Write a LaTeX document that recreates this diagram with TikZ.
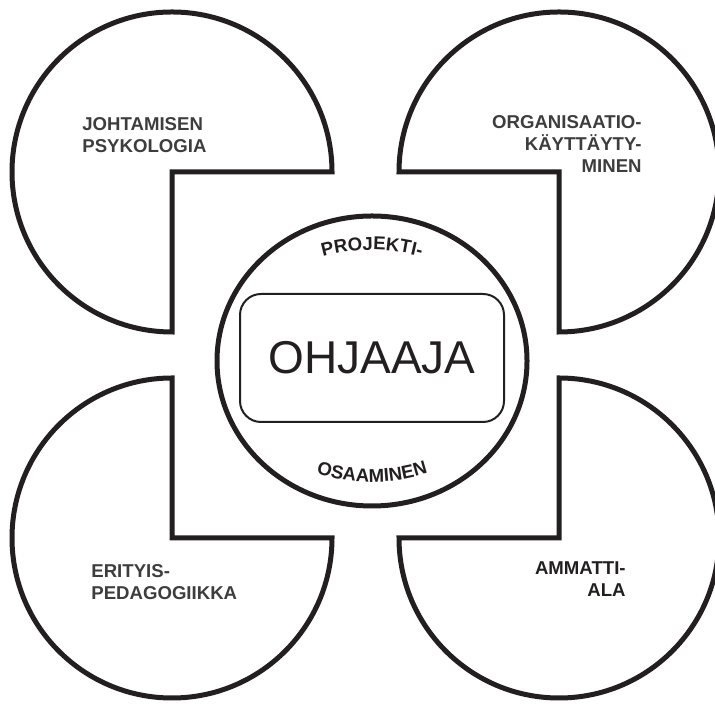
\documentclass[tikz,border=0pt]{standalone}
\usepackage{fontspec}
\setmainfont{Liberation Sans}
\usetikzlibrary{decorations.text}
\definecolor{inkline}{HTML}{231F20}
\definecolor{labelgray}{HTML}{3D3D3E}
\newcommand{\lblfont}{\fontsize{9.3}{11}\selectfont\bfseries}

\begin{document}
\begin{tikzpicture}[x=0.5pt, y=0.5pt,
    quarter/.style={draw=inkline, line width=2.5pt},
    topic/.style={font=\lblfont, text=labelgray, inner sep=0pt}]
    \path[use as bounding box, clip] (0,0) rectangle (715,704);
    \coordinate (tl) at (172,532);
    \coordinate (tr) at (559,532);
    \coordinate (bl) at (172,166);
    \coordinate (br) at (559,166);
    \coordinate (mid) at (372,343);
    \draw[quarter] (tl) -- ++(160,0) arc[start angle=0, end angle=270, radius=160] -- cycle;
    \draw[quarter] (tr) -- ++(0,-160) arc[start angle=-90, end angle=180, radius=160] -- cycle;
    \draw[quarter] (bl) -- ++(0,160) arc[start angle=90, end angle=360, radius=160] -- cycle;
    \draw[quarter] (br) -- ++(-160,0) arc[start angle=180, end angle=450, radius=160] -- cycle;
    \draw[quarter, fill=white] (mid) ellipse[x radius=155, y radius=145];
    \node[draw=inkline, line width=1pt, rounded corners=10.5pt, minimum width=132pt,
          minimum height=64pt, font=\fontsize{23}{23}\selectfont, text=inkline]
          (ohjaaja) at (372,346) {OHJAAJA};
    \path[decorate, decoration={text along path, text align=center,
          text={|\lblfont\color{inkline}|PROJEKTI-}}]
          (372,274) ++(135:180) arc[start angle=135, end angle=45, radius=180];
    \path[decorate, decoration={text along path, text align=center,
          text={|\lblfont\color{inkline}|OSAAMINEN}}]
          (372,402) ++(225:180) arc[start angle=225, end angle=315, radius=180];
    \node[topic, align=left, anchor=base west] (johtaminen) at (82,551) {JOHTAMISEN\\PSYKOLOGIA};
    \node[topic, align=right, anchor=base east] (organisaatio) at (642,531) {ORGANISAATIO-\\KÄYTTÄYTY-\\MINEN};
    \node[topic, align=left, anchor=base west] (erityis) at (91,104) {ERITYIS-\\PEDAGOGIIKKA};
    \node[topic, align=right, anchor=base east, text=inkline] (ammatti) at (626,107) {AMMATTI-\\ALA};
\end{tikzpicture}
\end{document}
